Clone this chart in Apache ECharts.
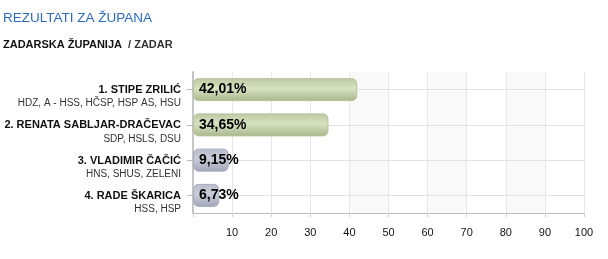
<!DOCTYPE html>
<html>
<head>
<meta charset="utf-8">
<script src="https://cdn.jsdelivr.net/npm/echarts@6/dist/echarts.min.js"></script>
<style>
html,body{margin:0;padding:0;background:#fff;}
#c{width:608px;height:259px;}
</style>
</head>
<body>
<div id="c"></div>
<script>
var candidates = ['1. STIPE ZRILIĆ', '2. RENATA SABLJAR-DRAČEVAC', '3. VLADIMIR ČAČIĆ', '4. RADE ŠKARICA'];
var parties = ['HDZ, A - HSS, HČSP, HSP AS, HSU', 'SDP, HSLS, DSU', 'HNS, SHUS, ZELENI', 'HSS, HSP'];
var values = [42.01, 34.65, 9.15, 6.73];
var barGroup = ['green', 'green', 'grey', 'grey'];
var xTicks = [0, 10, 20, 30, 40, 50, 60, 70, 80, 90, 100];

var FONT = '"Liberation Sans", Arial, sans-serif';
var gradients = {
  green: new echarts.graphic.LinearGradient(0, 0, 0, 1, [
    {offset: 0, color: '#bcc9a2'},
    {offset: 0.45, color: '#d7e2c0'},
    {offset: 1, color: '#a9b78e'}
  ]),
  grey: new echarts.graphic.LinearGradient(0, 0, 0, 1, [
    {offset: 0, color: '#b9bccb'},
    {offset: 0.45, color: '#c9ccd9'},
    {offset: 1, color: '#a2a6b9'}
  ])
};
var borders = {green: '#b5c29a', grey: '#a9acbd'};

var chart = echarts.init(document.getElementById('c'), null, {renderer: 'canvas'});
var option = {
  animation: false,
  backgroundColor: '#fff',
  title: [
    {text: 'REZULTATI ZA ŽUPANA', left: 3, top: 11, padding: 0,
     textStyle: {color: '#2f6ab8', fontSize: 13.5, fontWeight: 'normal', fontFamily: FONT}},
    {text: '{b|ZADARSKA ŽUPANIJA}{n|  / ZADAR}', left: 3, top: 39, padding: 0,
     textStyle: {rich: {
       b: {fontSize: 11, fontWeight: 'bold', color: '#111', fontFamily: FONT},
       n: {fontSize: 11, color: '#333', fontFamily: FONT}
     }}}
  ],
  grid: {left: 193, right: 24, top: 72, bottom: 46, containLabel: false},
  xAxis: {
    type: 'value', min: 0, max: 100, interval: 10,
    axisLine: {show: true, lineStyle: {color: '#bdbdbd', width: 1}},
    axisTick: {show: true, length: 4, lineStyle: {color: '#d0d0d0'}},
    axisLabel: {color: '#111', fontSize: 11, fontFamily: FONT, margin: 14,
      formatter: function (v) { return v === 0 ? '' : String(v); }},
    splitLine: {show: true, lineStyle: {color: '#e8e8e8', width: 1}},
    splitArea: {show: true, areaStyle: {color: ['#fff','#fff','#fff','#fff','#f9f9f9','#fff','#f9f9f9','#fff','#f9f9f9','#fff']}}
  },
  yAxis: {
    type: 'category', inverse: true, data: candidates,
    axisLine: {show: true, lineStyle: {color: '#c6c6c6', width: 2}},
    axisTick: {show: true, alignWithLabel: true, length: 6, lineStyle: {color: '#bbb'}},
    splitLine: {show: false},
    axisLabel: {
      margin: 12, align: 'right', padding: [14, 0, 0, 0],
      formatter: function (v, i) { return '{a|' + v + '}\n{p|' + parties[i] + '}'; },
      rich: {
        a: {fontSize: 11, fontWeight: 'bold', color: '#111', fontFamily: FONT, align: 'right', lineHeight: 14},
        p: {fontSize: 10, color: '#333', fontFamily: FONT, align: 'right', lineHeight: 13}
      }
    }
  },
  series: [{
    type: 'bar',
    z: 3,
    data: values.map(function (v, i) {
      return {value: v, itemStyle: {color: gradients[barGroup[i]], borderColor: borders[barGroup[i]], borderWidth: 1}};
    }),
    barWidth: 23,
    itemStyle: {borderRadius: 5},
    label: {
      show: true, position: 'insideLeft', distance: 6,
      color: '#000', fontSize: 14, fontWeight: 'bold', fontFamily: FONT,
      formatter: function (p) { return p.value.toFixed(2).replace('.', ',') + '%'; }
    },
    markLine: {
      silent: true, symbol: 'none', z: 1,
      label: {show: false},
      lineStyle: {color: '#e2e2e2', type: 'solid', width: 1},
      emphasis: {disabled: true},
      data: candidates.map(function (c) { return {yAxis: c}; })
    }
  }]
};
chart.setOption(option);
</script>
</body>
</html>
